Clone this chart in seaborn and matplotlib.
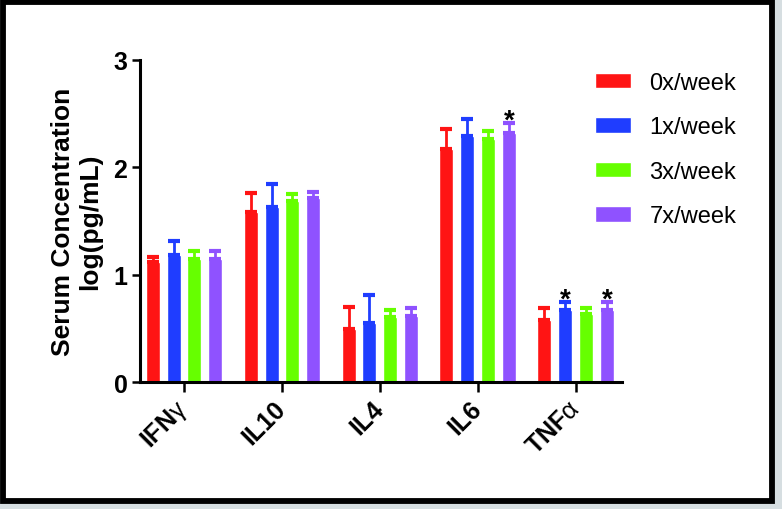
import matplotlib
matplotlib.use("Agg")
import matplotlib.pyplot as plt
import matplotlib.patches as mpatches
import seaborn as sns
import pandas as pd
import numpy as np

# Data
cytokines = ["IFNg", "IL10", "IL4", "IL6", "TNFa"]
tick_labels = ["IFN$\\gamma$", "IL10", "IL4", "IL6", "TNF$\\alpha$"]
groups = ["0x/week", "1x/week", "3x/week", "7x/week"]
colors = ["#ff1414", "#1f3dff", "#66ff00", "#8f52ff"]

mean_0x = [1.12, 1.58, 0.50, 2.17, 0.58]
mean_1x = [1.18, 1.63, 0.555, 2.29, 0.675]
mean_3x = [1.15, 1.69, 0.61, 2.26, 0.635]
mean_7x = [1.15, 1.71, 0.62, 2.32, 0.675]

err_0x = [0.05, 0.18, 0.20, 0.19, 0.11]
err_1x = [0.13, 0.215, 0.255, 0.155, 0.07]
err_3x = [0.07, 0.065, 0.06, 0.075, 0.055]
err_7x = [0.07, 0.06, 0.07, 0.09, 0.075]

# (cytokine, group) pairs marked with *
significant = [("IL6", "7x/week"), ("TNFa", "1x/week"), ("TNFa", "7x/week")]

means = [mean_0x, mean_1x, mean_3x, mean_7x]
errs = [err_0x, err_1x, err_3x, err_7x]

rows = []
for g, m_list, e_list in zip(groups, means, errs):
    for c, m, e in zip(cytokines, m_list, e_list):
        rows.append({"cytokine": c, "group": g, "value": m, "err": e})
df = pd.DataFrame(rows)

sns.set_style("ticks")
plt.rcParams["font.family"] = ["Liberation Sans", "DejaVu Sans"]
plt.rcParams["mathtext.fontset"] = "custom"
plt.rcParams["mathtext.rm"] = "Liberation Sans"
plt.rcParams["mathtext.default"] = "rm"
for key in ["text.color", "axes.labelcolor", "xtick.color", "ytick.color", "axes.edgecolor"]:
    plt.rcParams[key] = "black"

fig = plt.figure(figsize=(7.82, 5.10), dpi=100)
fig.patch.set_facecolor("#d6dee1")

# frame around the figure
frame = mpatches.Rectangle((0.0032, 0.0151), 0.9846, 0.979, transform=fig.transFigure,
                           facecolor="white", edgecolor="black", linewidth=4.2, zorder=-10)
fig.add_artist(frame)

ax = fig.add_axes([0.179, 0.2484, 0.616, 0.6325])
ax.set_facecolor("none")

sns.barplot(data=df, x="cytokine", y="value", hue="group", order=cytokines,
            hue_order=groups, palette=colors, saturation=1, errorbar=None,
            width=0.853, gap=0.33, ax=ax)

# upward-only error bars and significance stars
for g, container, col in zip(groups, ax.containers, colors):
    sub = df[df["group"] == g].set_index("cytokine").loc[cytokines]
    xs = [b.get_x() + b.get_width() / 2 for b in container]
    hs = [b.get_height() for b in container]
    ax.errorbar(xs, hs, yerr=[np.zeros(len(xs)), sub["err"].values], fmt="none",
                ecolor=col, elinewidth=2, capsize=4, capthick=3)
    for c, x, h, e in zip(cytokines, xs, hs, sub["err"].values):
        if (c, g) in significant:
            ax.annotate("*", (x, h + e), xytext=(0, -3.5), textcoords="offset points",
                        ha="center", va="baseline", fontsize=20, fontweight="bold")

ax.set_ylim(0, 3)
ax.set_xlim(-0.45, 4.47)
ax.set_yticks([0, 1, 2, 3])
ax.set_yticklabels(["0", "1", "2", "3"], fontsize=18, fontweight="bold")
ax.set_xticks(range(len(cytokines)))
ax.set_xticklabels(tick_labels, fontsize=18, fontweight="bold", rotation=45,
                   ha="right", va="center", rotation_mode="anchor")
ax.set_xlabel("")
ax.set_ylabel("Serum Concentration\nlog(pg/mL)", fontsize=19, fontweight="bold", labelpad=8)

sns.despine(ax=ax)
for s in ["left", "bottom"]:
    ax.spines[s].set_linewidth(2.2)
ax.tick_params(axis="y", length=6, width=1.8, pad=3)
ax.tick_params(axis="x", length=7, width=1.8, pad=9)

handles, labels = ax.get_legend_handles_labels()
ax.legend(handles, labels, loc="upper left", bbox_to_anchor=(0.761, 0.857),
          bbox_transform=fig.transFigure, frameon=False, fontsize=17,
          handlelength=1.5, handleheight=0.64, handletextpad=0.8,
          labelspacing=0.95, borderpad=0, borderaxespad=0)

fig.savefig("out.png", dpi=100, facecolor=fig.get_facecolor())
